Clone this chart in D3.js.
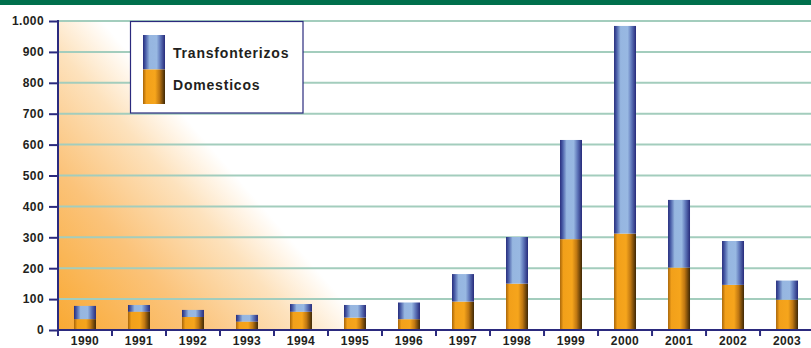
<!DOCTYPE html>
<html><head><meta charset="utf-8">
<script src="https://cdn.jsdelivr.net/npm/d3@7/dist/d3.min.js"></script>
<style>html,body{margin:0;padding:0;background:#fff;}svg{display:block;}</style>
</head><body>
<script>
const years = ["1990","1991","1992","1993","1994","1995","1996","1997","1998","1999","2000","2001","2002","2003"];
const domesticos = [35,59,42,27,59,40,35,92,150,294,312,202,146,98];
const transfronterizos = [43,22,23,22,25,41,54,89,151,321,672,219,142,62];
const yTicks = [0,100,200,300,400,500,600,700,800,900,1000];
const seriesNames = ["Transfonterizos","Domesticos"];

const W = 811, H = 348;
const FONT = "'Liberation Sans', Arial, sans-serif";
const svg = d3.select("body").append("svg").attr("width", W).attr("height", H);
const defs = svg.append("defs");

const x = d3.scaleBand().domain(years).range([58, 814]).paddingInner(0.593).paddingOuter(0.296);
const y = d3.scaleLinear().domain([0, 1000]).range([330, 21]);

// gradients
const bg = defs.append("linearGradient").attr("id","bg").attr("gradientUnits","userSpaceOnUse")
  .attr("x1",58).attr("y1",330).attr("x2",236).attr("y2",176);
[[0,"#f9a933"],[0.45,"#fbc37a"],[0.78,"#fde2bd"],[0.93,"#fff6ea"],[1,"#ffffff"]]
  .forEach(s=>bg.append("stop").attr("offset",s[0]).attr("stop-color",s[1]));

const gb = defs.append("linearGradient").attr("id","gblue").attr("x1","0").attr("x2","1").attr("y1","0").attr("y2","0");
[[0,"#262c7c"],[0.12,"#4a5ea8"],[0.3,"#96b6e0"],[0.62,"#98b8e2"],[0.8,"#5d74b8"],[1,"#262a7a"]]
  .forEach(s=>gb.append("stop").attr("offset",s[0]).attr("stop-color",s[1]));
const go = defs.append("linearGradient").attr("id","gorange").attr("x1","0").attr("x2","1").attr("y1","0").attr("y2","0");
[[0,"#a86508"],[0.15,"#f2a01a"],[0.55,"#f6a51c"],[0.75,"#c07812"],[1,"#3e2705"]]
  .forEach(s=>go.append("stop").attr("offset",s[0]).attr("stop-color",s[1]));

// top band
svg.append("rect").attr("x",0).attr("y",0).attr("width",W).attr("height",5).attr("fill","#00704c");

// background fade
svg.append("rect").attr("x",58).attr("y",21).attr("width",W-58).attr("height",309).attr("fill","url(#bg)");

// gridlines
svg.append("g").selectAll("line").data(yTicks.filter(d=>d>0)).join("line")
  .attr("x1",58).attr("x2",W).attr("y1",d=>y(d)).attr("y2",d=>y(d))
  .attr("stroke","#a3cdbd").attr("stroke-width",2);

// bars
const stackData = years.map((yr,i)=>({year:yr, Domesticos:domesticos[i], Transfonterizos:transfronterizos[i]}));
const stack = d3.stack().keys(["Domesticos","Transfonterizos"])(stackData);
const fills = {Domesticos:"url(#gorange)", Transfonterizos:"url(#gblue)"};
svg.append("g").selectAll("g").data(stack).join("g").attr("fill",d=>fills[d.key])
  .selectAll("rect").data(d=>d).join("rect")
  .attr("x",d=>x(d.data.year)).attr("width",x.bandwidth())
  .attr("y",d=>y(d[1])).attr("height",d=>y(d[0])-y(d[1]));

// axes
const navy = "#2b2a7e";
const yAxis = svg.append("g").attr("transform","translate(58,0)")
  .call(d3.axisLeft(y).tickValues(yTicks).tickSize(9).tickPadding(5)
    .tickFormat(d=>d===1000?"1.000":String(d)));
yAxis.select(".domain").remove();
yAxis.append("line").attr("x1",0).attr("x2",0).attr("y1",20).attr("y2",331).attr("stroke",navy).attr("stroke-width",2);
yAxis.selectAll(".tick line").attr("stroke",navy).attr("stroke-width",2);
yAxis.selectAll("text").attr("font-family",FONT).attr("font-weight","bold")
  .attr("font-size","12px").attr("letter-spacing","0.4px").attr("fill","#231f20");

const xAxis = svg.append("g").attr("transform","translate(0,330)")
  .call(d3.axisBottom(x).tickSize(0).tickPadding(6));
xAxis.select(".domain").remove();
xAxis.append("line").attr("x1",57).attr("x2",W).attr("y1",0).attr("y2",0).attr("stroke",navy).attr("stroke-width",2);
xAxis.selectAll(".tickmark").data(d3.range(years.length+1)).join("line")
  .attr("x1",i=>58+i*x.step()).attr("x2",i=>58+i*x.step()).attr("y1",0).attr("y2",6)
  .attr("stroke",navy).attr("stroke-width",2);
xAxis.selectAll("text").attr("font-family",FONT).attr("font-weight","bold")
  .attr("font-size","12px").attr("letter-spacing","0.4px").attr("fill","#231f20");

// legend
const lg = svg.append("g");
lg.append("rect").attr("x",130.5).attr("y",21.5).attr("width",172.5).attr("height",91.5)
  .attr("fill","#fff").attr("stroke",navy).attr("stroke-width",1.2);
lg.append("rect").attr("x",143).attr("y",35).attr("width",22).attr("height",34.5).attr("fill","url(#gblue)");
lg.append("rect").attr("x",143).attr("y",69.5).attr("width",22).attr("height",34.5).attr("fill","url(#gorange)");
lg.selectAll("text.lab").data(seriesNames).join("text").attr("class","lab")
  .attr("x",173).attr("y",(d,i)=>58+i*31.5).text(d=>d)
  .attr("font-family",FONT).attr("font-weight","bold")
  .attr("font-size","14px").attr("letter-spacing","0.8px").attr("fill","#231f20");
</script>
</body></html>
